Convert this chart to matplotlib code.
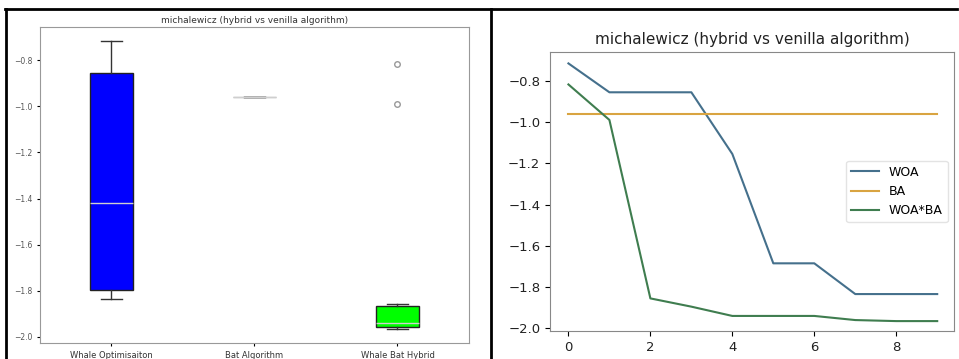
import numpy as np
import matplotlib.pyplot as plt
from matplotlib.lines import Line2D

# best fitness per iteration on the michalewicz function
iterations = list(range(10))
woa = [-0.716, -0.856, -0.856, -0.856, -1.155, -1.685, -1.685, -1.834, -1.834, -1.834]
ba = [-0.96, -0.96, -0.96, -0.96, -0.96, -0.96, -0.96, -0.96, -0.96, -0.96]
woa_ba = [-0.818, -0.99, -1.855, -1.895, -1.94, -1.94, -1.94, -1.96, -1.965, -1.965]

box_names = ['Whale Optimisaiton', 'Bat Algorithm', 'Whale Bat Hybrid']
box_colors = ['blue', 'white', 'lime']
line_names = ['WOA', 'BA', 'WOA*BA']
line_colors = ['#45708c', '#d9a441', '#3f7d4f']

title = 'michalewicz (hybrid vs venilla algorithm)'

fig = plt.figure(figsize=(9.59, 3.59), dpi=100)

# boxplot of the three runs
ax1 = fig.add_axes([0.0417, 0.0446, 0.4473, 0.880])
bp = ax1.boxplot([woa, ba, woa_ba], patch_artist=True, widths=0.3,
                 medianprops=dict(color='#cfcfcf', linewidth=1),
                 whiskerprops=dict(color='#333333', linewidth=1),
                 capprops=dict(color='#333333', linewidth=1),
                 flierprops=dict(marker='o', markersize=4, markerfacecolor='none',
                                 markeredgecolor='#999999'))
for patch, c in zip(bp['boxes'], box_colors):
    patch.set_facecolor(c)
    patch.set_edgecolor('#222222' if c != 'white' else '#bbbbbb')
ax1.set_xticks([1, 2, 3])
ax1.set_xticklabels(box_names, fontsize=6, color='#333333')
ax1.set_yticks(np.arange(-2.0, -0.79, 0.2))
ax1.tick_params(axis='y', labelsize=5.5, labelcolor='#555555', length=2)
ax1.tick_params(axis='x', length=2)
ax1.set_ylim(-2.026, -0.657)
ax1.set_title(title, fontsize=6.5, color='#333333', pad=3)
for s in ax1.spines.values():
    s.set_color('#999999')

# convergence curves
ax2 = fig.add_axes([0.5735, 0.078, 0.4213, 0.777])
for ys, name, c in zip([woa, ba, woa_ba], line_names, line_colors):
    ax2.plot(iterations, ys, color=c, linewidth=1.5, label=name)
ax2.set_xlim(-0.45, 9.41)
ax2.set_ylim(-2.013, -0.661)
ax2.set_xticks([0, 2, 4, 6, 8])
ax2.set_yticks(np.arange(-2.0, -0.79, 0.2))
ax2.tick_params(labelsize=9.5, labelcolor='#222222')
ax2.set_title(title, fontsize=11, color='#222222', pad=6)
ax2.legend(loc='center right', fontsize=9, frameon=True, framealpha=0.8,
           edgecolor='#dddddd', handlelength=2.2)
for s in ax2.spines.values():
    s.set_color('#888888')

# black frame around the two panels
frame = dict(color='black', linewidth=2, transform=fig.transFigure)
fig.add_artist(Line2D([5 / 959, 957 / 959], [1 - 8.5 / 359] * 2, **frame))
fig.add_artist(Line2D([6 / 959] * 2, [0, 1 - 8.5 / 359], **frame))
fig.add_artist(Line2D([491 / 959] * 2, [0, 1 - 8.5 / 359], **frame))

fig.savefig('out.png', dpi=100)
